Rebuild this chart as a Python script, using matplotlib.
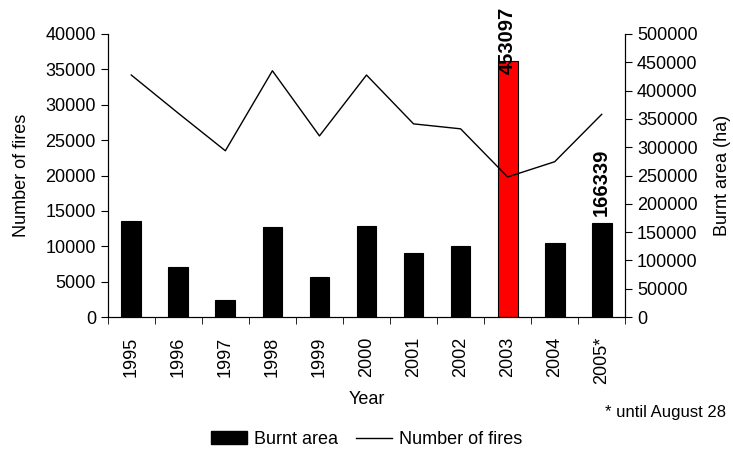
import matplotlib.pyplot as plt
import numpy as np
from matplotlib.patches import Patch
from matplotlib.lines import Line2D

plt.rcParams['font.family'] = ['Liberation Sans', 'DejaVu Sans']
plt.rcParams['font.size'] = 13

years = ['1995', '1996', '1997', '1998', '1999', '2000',
         '2001', '2002', '2003', '2004', '2005*']
number_of_fires = [34200, 28800, 23500, 34800, 25600, 34200,
                   27300, 26600, 19800, 21950, 28650]
burnt_area = [170000, 88000, 30000, 159000, 71000, 161000,
              113000, 125000, 453097, 131000, 166339]
bar_colors = ['black'] * 8 + ['red'] + ['black'] * 2

fig = plt.figure(figsize=(7.33, 4.53), dpi=100)
ax = fig.add_axes([0.147, 0.300, 0.706, 0.625])
ax2 = ax.twinx()

x = np.arange(len(years))

# bars on right axis, line on left axis (drawn above bars)
ax2.bar(x, burnt_area, width=0.42, color=bar_colors, edgecolor='black',
        linewidth=0.8)
ax.plot(x, number_of_fires, color='black', linewidth=1)
ax.set_zorder(ax2.get_zorder() + 1)
ax.patch.set_visible(False)

ax.set_xlim(-0.5, len(years) - 0.5)
ax.set_ylim(0, 40000)
ax.set_yticks(np.arange(0, 40001, 5000))
ax2.set_ylim(0, 500000)
ax2.set_yticks(np.arange(0, 500001, 50000))

# category ticks at boundaries
ax.set_xticks(x)
ax.set_xticklabels(years, rotation=90)
ax.tick_params(axis='x', length=0, pad=14)
ax.set_xticks(np.arange(-0.5, len(years)), minor=True)
ax.tick_params(axis='x', which='minor', length=5, direction='out')

ax.set_ylabel('Number of fires', labelpad=11)
ax2.set_ylabel('Burnt area (ha)', labelpad=12)
ax.set_xlabel('Year', labelpad=5)

for a in (ax, ax2):
    a.spines['top'].set_visible(False)
ax.tick_params(axis='y', length=5)
ax2.tick_params(axis='y', length=5)

# value labels
ax2.annotate(f'{burnt_area[10]}', xy=(x[10], burnt_area[10]),
             xytext=(0, 5), textcoords='offset points',
             ha='center', va='bottom', rotation=90, fontweight='bold',
             fontsize=14.5)
ax2.annotate(f'{burnt_area[8]}', xy=(x[8], burnt_area[8]),
             xytext=(0, -10), textcoords='offset points',
             ha='center', va='bottom', rotation=90, fontweight='bold',
             fontsize=14.5, annotation_clip=False)

# legend
handles = [Patch(facecolor='black', edgecolor='black'),
           Line2D([], [], color='black', linewidth=1)]
fig.legend(handles, ['Burnt area', 'Number of fires'], loc='center',
           bbox_to_anchor=(0.5, 0.03), ncol=2, frameon=False,
           handlelength=2, handletextpad=0.4, columnspacing=1.0,
           fontsize=13)

fig.text(0.99, 0.09, '* until August 28', ha='right', va='center',
         fontsize=12)

fig.savefig('out.png', dpi=100)
